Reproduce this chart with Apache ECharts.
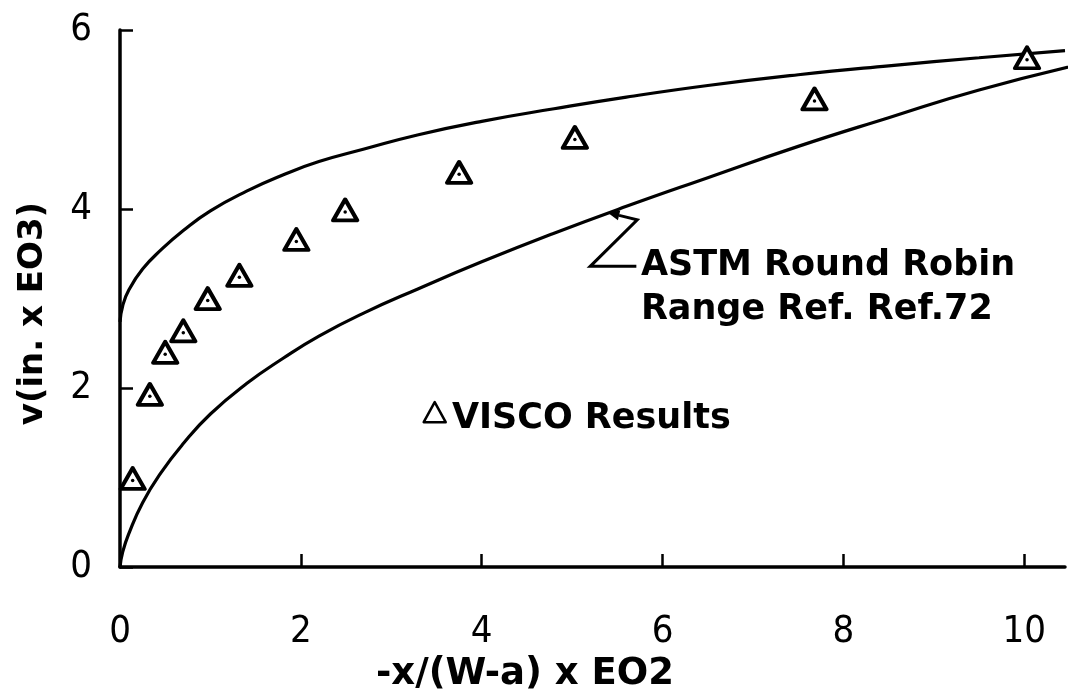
<!DOCTYPE html>
<html>
<head>
<meta charset="utf-8">
<script src="https://cdn.jsdelivr.net/npm/echarts@6/dist/echarts.min.js"></script>
<style>
html,body{margin:0;padding:0;background:#fff;}
#chart{width:1089px;height:698px;}
</style>
</head>
<body>
<div id="chart"></div>
<script>
// ---- data ----
const xTicks = [0, 2, 4, 6, 8, 10];
const yTicks = [0, 2, 4, 6];

// VISCO results (triangles)
const viscoX = [0.14, 0.33, 0.50, 0.70, 0.97, 1.32, 1.95, 2.49, 3.75, 5.03, 7.68, 10.03];
const viscoY = [0.99, 1.93, 2.40, 2.64, 3.00, 3.26, 3.66, 3.99, 4.41, 4.80, 5.23, 5.69];

// ASTM round robin range - upper bound
const upperX = [0, 0.03, 0.1, 0.25, 0.45, 0.7, 1.0, 1.4, 1.8, 2.2, 2.7, 3.3, 4.0, 4.8, 5.6, 6.5, 7.5, 8.5, 9.5, 10.45];
const upperY = [2.74, 2.92, 3.10, 3.33, 3.54, 3.76, 3.98, 4.20, 4.38, 4.53, 4.67, 4.83, 4.98, 5.12, 5.25, 5.38, 5.50, 5.60, 5.69, 5.77];

// ASTM round robin range - lower bound
const lowerX = [0, 0.03, 0.1, 0.25, 0.45, 0.7, 1.0, 1.4, 1.8, 2.2, 2.7, 3.3, 4.0, 4.8, 5.6, 6.5, 7.5, 8.5, 9.5, 10.72];
const lowerY = [0, 0.17, 0.38, 0.72, 1.05, 1.38, 1.71, 2.05, 2.33, 2.58, 2.84, 3.11, 3.41, 3.73, 4.03, 4.35, 4.70, 5.02, 5.33, 5.64];

const xName = '-x/(W-a) x EO2';
const yName = 'v(in. x EO3)';
const annot1 = 'ASTM Round Robin';
const annot2 = 'Range Ref. Ref.72';
const viscoLabel = 'VISCO Results';

const zip = (a, b) => a.map((v, i) => [v, b[i]]);

const tickFont = "'Liberation Sans Narrow', 'DejaVu Sans Condensed', sans-serif";
const boldFont = "'DejaVu Sans', sans-serif";

const chart = echarts.init(document.getElementById('chart'), null, {renderer: 'canvas'});

chart.setOption({
  animation: false,
  backgroundColor: '#fff',
  grid: {left: 120, right: 24, top: 30, bottom: 123, containLabel: false},
  xAxis: {
    type: 'value', min: 0, max: 10.45,
    name: xName, nameLocation: 'middle', nameGap: 88,
    nameTextStyle: {fontFamily: boldFont, fontWeight: 'bold', fontSize: 37, color: '#000', padding: [0, 135, 0, 0]},
    axisLine: {lineStyle: {color: '#000', width: 3.5}},
    axisTick: {inside: true, length: 13, lineStyle: {color: '#000', width: 2.5}, customValues: xTicks},
    axisLabel: {customValues: xTicks, margin: 46, fontFamily: tickFont, fontSize: 38, color: '#000'},
    splitLine: {show: false}
  },
  yAxis: {
    type: 'value', min: 0, max: 6, interval: 2,
    name: yName, nameLocation: 'middle', nameGap: 70, nameRotate: 90,
    nameTextStyle: {fontFamily: boldFont, fontWeight: 'bold', fontSize: 34, color: '#000', padding: [0, 30, 0, 0]},
    axisLine: {lineStyle: {color: '#000', width: 3.5}},
    axisTick: {inside: true, length: 13, lineStyle: {color: '#000', width: 2.5}},
    axisLabel: {margin: 28, fontFamily: tickFont, fontSize: 38, color: '#000', padding: [0, 0, 10, 0]},
    splitLine: {show: false}
  },
  series: [
    {
      name: 'upper', type: 'line', data: zip(upperX, upperY), smooth: 0.5,
      showSymbol: false, lineStyle: {color: '#000', width: 3.2}, z: 2, clip: false
    },
    {
      name: 'lower', type: 'line', data: zip(lowerX, lowerY), smooth: 0.5,
      showSymbol: false, lineStyle: {color: '#000', width: 3.2}, z: 2, clip: false
    },
    {
      name: 'VISCO', type: 'scatter', data: zip(viscoX, viscoY),
      symbol: 'triangle', symbolSize: [24, 21],
      itemStyle: {color: '#fff', borderColor: '#000', borderWidth: 4, borderJoin: 'round', opacity: 1}, z: 5
    },
    {
      name: 'VISCO dot', type: 'scatter', data: zip(viscoX, viscoY),
      symbol: 'circle', symbolSize: 3.5, symbolOffset: [0, 2],
      itemStyle: {color: '#000', opacity: 1}, z: 6
    }
  ]
});

// annotations anchored to data coordinates
const P = (x, y) => chart.convertToPixel({gridIndex: 0}, [x, y]);
const tip = P(5.39, 3.96);
const b1 = P(5.72, 3.88);
const b2 = P(5.20, 3.36);
const b3 = P(5.71, 3.36);
const t1 = P(5.76, 3.37);
const t2 = P(5.76, 2.87);
const vt = P(3.48, 1.72);
const vl = P(3.67, 1.66);

// arrow head direction
const dx = tip[0] - b1[0], dy = tip[1] - b1[1];
const len = Math.hypot(dx, dy);
const ux = dx / len, uy = dy / len;
const ah = 12, aw = 5;
const baseX = tip[0] - ux * ah, baseY = tip[1] - uy * ah;

chart.setOption({
  graphic: [
    {type: 'polyline', shape: {points: [[baseX, baseY], b1, b2, b3]}, style: {stroke: '#000', lineWidth: 3, fill: null}, z: 10},
    {type: 'polygon', shape: {points: [tip, [baseX - uy * aw, baseY + ux * aw], [baseX + uy * aw, baseY - ux * aw]]}, style: {fill: '#000'}, z: 10},
    {type: 'text', x: t1[0], y: t1[1], style: {text: annot1, font: "bold 35px 'DejaVu Sans', sans-serif", fill: '#000', textVerticalAlign: 'middle', textAlign: 'left'}, z: 10},
    {type: 'text', x: t2[0], y: t2[1], style: {text: annot2, font: "bold 35px 'DejaVu Sans', sans-serif", fill: '#000', textVerticalAlign: 'middle', textAlign: 'left'}, z: 10},
    {type: 'polygon', shape: {points: [[vt[0], vt[1] - 11], [vt[0] - 11, vt[1] + 9], [vt[0] + 11, vt[1] + 9]]}, style: {fill: null, stroke: '#000', lineWidth: 2.5, lineJoin: 'round'}, z: 10},
    {type: 'text', x: vl[0], y: vl[1], style: {text: viscoLabel, font: "bold 35px 'DejaVu Sans', sans-serif", fill: '#000', textVerticalAlign: 'middle', textAlign: 'left'}, z: 10}
  ]
});
</script>
</body>
</html>
